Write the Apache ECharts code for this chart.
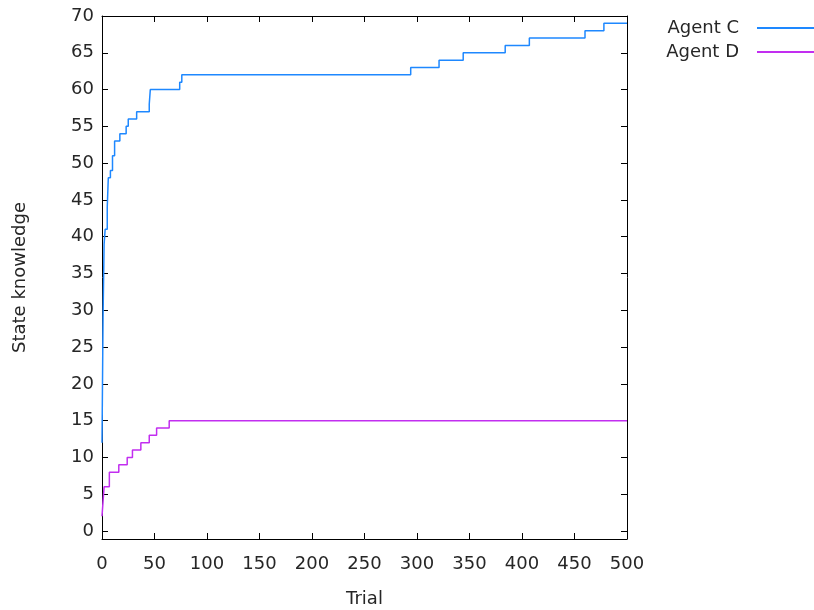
<!DOCTYPE html>
<html>
<head>
<meta charset="utf-8">
<script src="https://cdn.jsdelivr.net/npm/echarts@6/dist/echarts.min.js"></script>
<style>
  html, body { margin: 0; padding: 0; background: #ffffff; }
  #chart { width: 814px; height: 610px; }
</style>
</head>
<body>
<div id="chart"></div>
<script>
// Step data: [trial, knowledge reached from that trial onward]
const agentC = [
  [0, 12], [1, 29], [2, 39], [3, 41], [5, 44], [6, 48], [8, 49], [10, 51],
  [12, 53], [17, 54], [23, 55], [25, 56], [33, 57], [45, 58], [46, 60],
  [74, 61], [76, 62], [294, 63], [321, 64], [344, 65], [384, 66], [407, 67],
  [460, 68], [478, 69], [500, 69]
];
const agentD = [
  [0, 2], [1, 4], [2, 6], [7, 8], [16, 9], [24, 10], [29, 11], [37, 12],
  [45, 13], [52, 14], [64, 15], [500, 15]
];
const xTicks = [0, 50, 100, 150, 200, 250, 300, 350, 400, 450, 500];
const yTicks = [0, 5, 10, 15, 20, 25, 30, 35, 40, 45, 50, 55, 60, 65, 70];
const seriesNames = ['Agent C', 'Agent D'];
const seriesColors = ['#1e88ff', '#c22ef0'];

const FONT = 'DejaVu Sans';
const FS = 18;
const TEXT = '#262626';
const AXIS = '#000000';

const tickStyle = { inside: true, length: 6, lineStyle: { color: AXIS, width: 1 } };

function xAxisDef(pos, labels) {
  return {
    type: 'value', position: pos, min: 0, max: 500,
    axisLine: { show: true, onZero: false, lineStyle: { color: AXIS, width: 1 } },
    axisTick: Object.assign({ customValues: xTicks }, tickStyle),
    axisLabel: { show: labels, customValues: xTicks, margin: 16, color: TEXT, fontFamily: FONT, fontSize: FS },
    splitLine: { show: false },
    name: labels ? 'Trial' : '', nameLocation: 'middle', nameGap: 51,
    nameTextStyle: { color: TEXT, fontFamily: FONT, fontSize: FS }
  };
}
function yAxisDef(pos, labels) {
  return {
    type: 'value', position: pos, min: -1.087, max: 70,
    axisLine: { show: true, onZero: false, lineStyle: { color: AXIS, width: 1 } },
    axisTick: Object.assign({ customValues: yTicks }, tickStyle),
    axisLabel: { show: labels, customValues: yTicks, margin: 8, color: TEXT, fontFamily: FONT, fontSize: FS },
    splitLine: { show: false },
    name: labels ? 'State knowledge' : '', nameLocation: 'middle', nameGap: 73, nameRotate: 90,
    nameTextStyle: { color: TEXT, fontFamily: FONT, fontSize: FS }
  };
}

const chart = echarts.init(document.getElementById('chart'), null, { renderer: 'canvas' });
chart.setOption({
  animation: false,
  backgroundColor: '#ffffff',
  grid: { left: 102, right: 187, top: 16, bottom: 71, containLabel: false, outerBoundsMode: 'none' },
  legend: {
    orient: 'vertical', right: -5, top: 14, align: 'right',
    itemWidth: 57, itemHeight: 2, itemGap: 6, icon: 'rect',
    itemStyle: { borderWidth: 0 },
    data: seriesNames.map((n, i) => ({ name: n, itemStyle: { color: seriesColors[i], borderWidth: 0 } })),
    textStyle: { color: TEXT, fontFamily: FONT, fontSize: FS, padding: [0, 13, 0, 0], lineHeight: 18 }
  },
  xAxis: [xAxisDef('bottom', true), xAxisDef('top', false)],
  yAxis: [yAxisDef('left', true), yAxisDef('right', false)],
  series: [
    {
      name: seriesNames[0], type: 'line', step: 'end', data: agentC,
      xAxisIndex: 0, yAxisIndex: 0, symbol: 'none',
      lineStyle: { color: seriesColors[0], width: 1.5 }, itemStyle: { color: seriesColors[0] }
    },
    {
      name: seriesNames[1], type: 'line', step: 'end', data: agentD,
      xAxisIndex: 0, yAxisIndex: 0, symbol: 'none',
      lineStyle: { color: seriesColors[1], width: 1.5 }, itemStyle: { color: seriesColors[1] }
    }
  ]
});
</script>
</body>
</html>
